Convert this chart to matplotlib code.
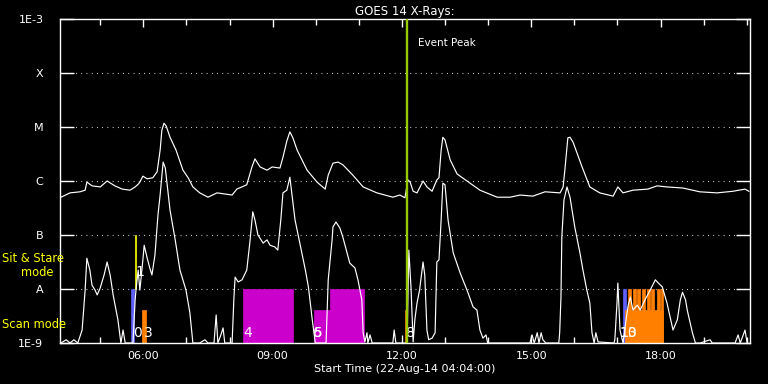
"""GOES 14 X-ray flux with observation bars (recreated)."""
import matplotlib
matplotlib.use("Agg")
import matplotlib.pyplot as plt  # noqa: E402
from matplotlib.ticker import FixedLocator, FuncFormatter  # noqa: E402

# long channel (1-8 A): hours since 00:00 on 22-Aug-14, log10 flux
long_t = [4.09, 4.30, 4.53, 4.65, 4.69, 4.81, 5.00, 5.16, 5.34, 5.51, 5.69, 5.81,
          5.88, 5.92, 5.99, 6.09, 6.22, 6.32, 6.39, 6.43, 6.48, 6.53, 6.62, 6.76,
          6.92, 7.04, 7.15, 7.31, 7.50, 7.71, 7.89, 8.06, 8.17, 8.40, 8.52, 8.59,
          8.71, 8.87, 8.99, 9.17, 9.24, 9.33, 9.40, 9.47, 9.57, 9.80, 10.03, 10.22,
          10.29, 10.40, 10.52, 10.63, 10.86, 11.10, 11.42, 11.79, 11.95, 12.07,
          12.14, 12.19, 12.26, 12.35, 12.49, 12.58, 12.70, 12.81, 12.86, 12.91,
          12.95, 13.00, 13.12, 13.28, 13.51, 13.81, 14.21, 14.51, 14.74, 15.04,
          15.32, 15.67, 15.74, 15.78, 15.85, 15.90, 15.97, 16.08, 16.18, 16.36,
          16.59, 16.90, 17.01, 17.13, 17.36, 17.71, 17.92, 18.15, 18.52, 18.91,
          19.31, 19.68, 19.96, 20.05]
long_logf = [-6.30, -6.22, -6.20, -6.17, -6.02, -6.09, -6.11, -6.00, -6.09, -6.15,
             -6.17, -6.11, -6.06, -6.02, -5.91, -5.96, -5.94, -5.83, -5.43, -5.06,
             -4.93, -4.98, -5.19, -5.43, -5.80, -5.94, -6.11, -6.22, -6.30, -6.22,
             -6.24, -6.26, -6.15, -6.07, -5.74, -5.59, -5.74, -5.80, -5.74, -5.76,
             -5.56, -5.26, -5.09, -5.20, -5.43, -5.80, -6.02, -6.15, -5.89, -5.67,
             -5.65, -5.70, -5.89, -6.11, -6.22, -6.30, -6.26, -6.31, -5.98, -6.02,
             -6.19, -6.22, -6.00, -6.11, -6.19, -5.98, -5.94, -5.43, -5.19, -5.24,
             -5.61, -5.87, -6.00, -6.17, -6.30, -6.30, -6.26, -6.28, -6.20, -6.22,
             -6.11, -5.80, -5.20, -5.19, -5.28, -5.52, -5.74, -6.11, -6.22, -6.28,
             -6.11, -6.22, -6.17, -6.15, -6.09, -6.11, -6.13, -6.20, -6.22, -6.19,
             -6.15, -6.19]

# short channel (0.5-4 A)
short_t = [4.09, 4.21, 4.30, 4.39, 4.48, 4.58, 4.65, 4.69, 4.76, 4.81, 4.88, 4.93,
           5.00, 5.09, 5.16, 5.23, 5.30, 5.41, 5.48, 5.53, 5.58, 5.76, 5.81, 5.83,
           5.88, 5.92, 5.99, 6.02, 6.09, 6.15, 6.20, 6.27, 6.34, 6.39, 6.46, 6.51,
           6.62, 6.74, 6.85, 6.99, 7.08, 7.15, 7.31, 7.43, 7.50, 7.64, 7.69, 7.73,
           7.80, 7.85, 7.89, 8.06, 8.10, 8.13, 8.20, 8.29, 8.40, 8.47, 8.54, 8.59,
           8.66, 8.78, 8.87, 8.94, 9.05, 9.12, 9.19, 9.24, 9.33, 9.40, 9.45, 9.52,
           9.64, 9.76, 9.83, 9.92, 9.99, 10.24, 10.29, 10.38, 10.40, 10.47, 10.56,
           10.63, 10.79, 10.91, 10.98, 11.07, 11.10, 11.14, 11.19, 11.21, 11.26,
           11.31, 11.79, 11.82, 11.86, 12.12, 12.16, 12.21, 12.26, 12.30, 12.35,
           12.41, 12.49, 12.53, 12.58, 12.62, 12.70, 12.77, 12.81, 12.86, 12.91,
           12.95, 13.00, 13.07, 13.19, 13.35, 13.51, 13.65, 13.74, 13.81, 13.88,
           13.95, 13.99, 14.97, 15.02, 15.07, 15.14, 15.18, 15.23, 15.27, 15.34,
           15.64, 15.66, 15.69, 15.71, 15.76, 15.83, 15.90, 16.01, 16.13, 16.20,
           16.29, 16.36, 16.41, 16.46, 16.50, 16.55, 16.92, 16.94, 16.99, 17.01,
           17.06, 17.13, 17.20, 17.25, 17.30, 17.36, 17.46, 17.53, 17.64, 17.76,
           17.88, 17.95, 18.04, 18.15, 18.29, 18.39, 18.46, 18.51, 18.58, 18.62,
           18.74, 18.81, 18.92, 19.15, 19.20, 19.73, 19.80, 19.85, 19.96, 20.01]
short_logf = [-9.0, -8.94, -9.0, -8.94, -9.0, -8.76, -8.02, -7.43, -7.65, -7.93,
              -8.02, -8.11, -7.98, -7.74, -7.50, -7.74, -8.11, -8.57, -9.0, -8.76,
              -9.0, -9.0, -8.20, -8.02, -7.65, -8.02, -7.46, -7.19, -7.43, -7.61,
              -7.74, -7.37, -6.63, -6.26, -5.65, -5.76, -6.54, -7.09, -7.65, -8.02,
              -8.44, -9.0, -9.0, -8.94, -9.0, -9.0, -8.48, -9.0, -8.85, -8.72,
              -9.0, -9.0, -8.20, -7.78, -7.87, -7.83, -7.65, -7.15, -6.57, -6.72,
              -7.00, -7.15, -7.09, -7.19, -7.22, -7.28, -6.72, -6.22, -6.17, -5.93,
              -6.26, -6.72, -7.19, -7.65, -7.96, -8.57, -9.0, -9.0, -7.83, -7.09,
              -6.85, -6.76, -6.87, -7.04, -7.52, -7.61, -7.83, -8.20, -8.81, -8.98,
              -8.81, -9.0, -8.85, -9.0, -9.0, -8.76, -9.0, -9.0, -7.28, -7.96,
              -8.98, -8.57, -8.26, -8.02, -7.50, -7.74, -8.76, -8.94, -8.91, -8.81,
              -7.50, -7.46, -6.72, -6.04, -6.07, -6.72, -7.33, -7.70, -8.02, -8.33,
              -8.39, -8.76, -8.91, -8.85, -9.0, -9.0, -8.85, -9.0, -8.81, -9.0,
              -8.81, -8.94, -9.0, -9.0, -8.81, -8.15, -7.04, -6.35, -6.11, -6.30,
              -6.85, -7.33, -7.65, -8.02, -8.26, -8.81, -9.0, -8.81, -8.98, -9.0,
              -8.94, -8.26, -7.89, -8.76, -9.0, -8.57, -8.30, -8.15, -8.39, -8.30,
              -8.39, -8.20, -8.02, -7.83, -7.89, -7.96, -8.26, -8.76, -8.57, -8.20,
              -8.06, -8.20, -8.39, -8.81, -9.0, -9.0, -8.94, -9.0, -9.0, -8.85,
              -9.0, -8.76, -9.0]

# observations: start/end hour, log10 bottom/top of the bar, colour
obs_start = [5.71, 5.80, 5.97, 8.31, 9.96, 10.33, 12.07, 17.13, 17.18,
             17.24, 17.35, 17.46, 17.58, 17.68, 17.79, 17.91, 18.01]
obs_end = [5.79, 5.84, 6.06, 9.47, 10.33, 11.12, 12.10, 17.20, 18.06,
           17.31, 17.42, 17.53, 17.65, 17.75, 17.86, 17.98, 18.05]
obs_bottom = [-9, -8, -9, -9, -9, -9, -9, -9, -9,
              -9, -9, -9, -9, -9, -9, -9, -9]
obs_top = [-8, -7, -8.39, -8, -8.39, -8, -8.39, -8, -8.39,
           -8, -8, -8, -8, -8, -8, -8, -8]
obs_color = ["#6060ff", "#ffff00", "#ff8000", "#cc00cc", "#cc00cc", "#cc00cc",
             "#ff8000", "#6060ff", "#ff8000",
             "#ff8000", "#ff8000", "#ff8000", "#ff8000", "#ff8000", "#ff8000",
             "#ff8000", "#ff8000"]

# observation index labels
lab_text = ["0", "3", "1", "4", "5", "6", "8", "10", "13"]
lab_t = [5.87, 6.11, 5.92, 8.43, 10.05, 10.05, 12.19, 17.24, 17.24]
lab_logf = [-8.81, -8.81, -7.69, -8.81, -8.81, -8.81, -8.81, -8.81, -8.81]

event_peak = 12.12
t_start, t_end = 4.067, 20.076
flare_ticks = [-3, -4, -5, -6, -7, -8, -9]
flare_names = ["1E-3", "X", "M", "C", "B", "A", "1E-9"]

FG = "white"
C_EVENT = "#99cc00"
C_MODE = "#ffff00"

fig = plt.figure(figsize=(7.68, 3.84), dpi=100, facecolor="black")
ax = fig.add_axes([60 / 768, 41 / 384, 690 / 768, 324 / 384], facecolor="black")
ax.set_yscale("log")
ax.set_xlim(t_start, t_end)
ax.set_ylim(1e-9, 1e-3)

for s, e, b, t, c in zip(obs_start, obs_end, obs_bottom, obs_top, obs_color):
    ax.bar(s, 10.0 ** t - 10.0 ** b, width=e - s, bottom=10.0 ** b,
           align="edge", color=c, edgecolor=c, lw=0.5, zorder=2)

ax.plot(long_t, [10.0 ** v for v in long_logf], color=FG, lw=0.85, zorder=3)
ax.plot(short_t, [10.0 ** v for v in short_logf], color=FG, lw=0.85, zorder=3)

for txt, t, v in zip(lab_text, lab_t, lab_logf):
    ax.text(t, 10.0 ** v, txt, color=FG, fontsize=10, ha="center",
            va="center", zorder=4)

ax.axvline(event_peak, color=C_EVENT, lw=1.7, zorder=4)
ax.text(event_peak + 0.25, 10 ** -3.45, "Event Peak", color=FG, fontsize=7.5,
        ha="left", va="center")

# grid at flare classes
for v in flare_ticks[1:-1]:
    ax.axhline(10.0 ** v, color=FG, lw=0.8, dashes=(0.7, 4.0), zorder=1)

ax.yaxis.set_major_locator(FixedLocator([10.0 ** v for v in flare_ticks]))
ax.yaxis.set_minor_locator(FixedLocator([]))
ax.set_yticklabels(flare_names)
ax.tick_params(axis="y", which="major", direction="in", length=10, width=1,
               colors=FG, labelsize=8, pad=12, right=True)

ax.xaxis.set_major_locator(FixedLocator([6, 9, 12, 15, 18]))
ax.xaxis.set_minor_locator(FixedLocator(list(range(5, 21))))
ax.xaxis.set_major_formatter(FuncFormatter(lambda v, _: f"{int(round(v)):02d}:00"))
ax.tick_params(axis="x", which="both", direction="in", colors=FG,
               labelsize=8, top=True, pad=6)
ax.tick_params(axis="x", which="major", length=6, width=1)
ax.tick_params(axis="x", which="minor", length=4, width=1)

for sp in ax.spines.values():
    sp.set_color(FG)
    sp.set_linewidth(1.0)

ax.set_title("GOES 14 X-Rays:", color=FG, fontsize=8.5, pad=3)
ax.set_xlabel("Start Time (22-Aug-14 04:04:00)", color=FG, fontsize=8, labelpad=2)

fig.text(2 / 768, 1 - 259 / 384, "Sit & Stare", color=C_MODE, fontsize=8.3,
         ha="left", va="center")
fig.text(37 / 768, 1 - 272 / 384, "mode", color=C_MODE, fontsize=8.3,
         ha="center", va="center")
fig.text(2 / 768, 1 - 324 / 384, "Scan mode", color=C_MODE, fontsize=8.3,
         ha="left", va="center")

fig.savefig("out.png", dpi=100, facecolor="black")
